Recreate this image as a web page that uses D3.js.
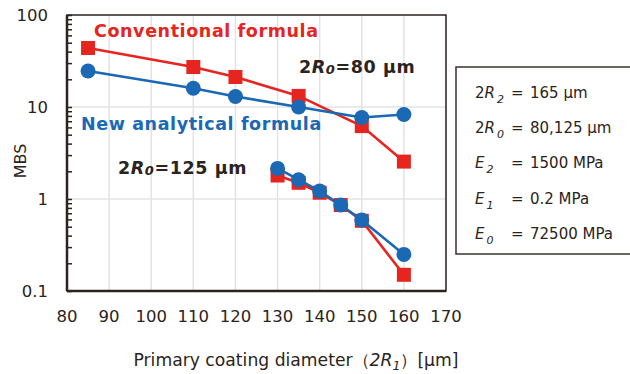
<!DOCTYPE html>
<html><head><meta charset="utf-8">
<script src="https://cdn.jsdelivr.net/npm/d3@7"></script>
<style>body{margin:0;background:#fff}svg{display:block}</style>
</head><body><svg id="c" width="630" height="374"></svg>
<script>
const xTicks = [80,90,100,110,120,130,140,150,160,170];
const yTicks = [0.1,1,10,100];
const x80 = [85,110,120,135,150,160];
const conv80 = [43.8,27.2,21.2,13.2,6.2,2.55];
const new80 = [24.6,16.0,13.0,10.0,7.7,8.3];
const x125 = [130,135,140,145,150,160];
const conv125 = [1.8,1.5,1.17,0.86,0.58,0.15];
const new125 = [2.15,1.62,1.22,0.86,0.59,0.25];
const legendLines = [
  {a:"2", v:"R", s:"2", rest:"165 μm"},
  {a:"2", v:"R", s:"0", rest:"80,125 μm"},
  {a:"", v:"E", s:"2", rest:"1500 MPa"},
  {a:"", v:"E", s:"1", rest:"0.2 MPa"},
  {a:"", v:"E", s:"0", rest:"72500 MPa"}
];
const RED="#e62420", BLUE="#1b68b4", INK="#2b2320";
const svg=d3.select("#c");
const font="DejaVu Sans, Verdana, sans-serif";
const L=67,R=446,T=15,B=291;
const x=d3.scaleLinear().domain([80,170]).range([L,R]);
const y=d3.scaleLog().domain([0.1,100]).range([B,T]);
// grid
svg.append("g").selectAll("line").data(xTicks.slice(1)).join("line")
 .attr("x1",d=>x(d)).attr("x2",d=>x(d)).attr("y1",T).attr("y2",B)
 .attr("stroke","#e3e3e3").attr("stroke-width",1.5);
svg.append("g").selectAll("line").data(yTicks.slice(1,3)).join("line")
 .attr("x1",L).attr("x2",R).attr("y1",d=>y(d)).attr("y2",d=>y(d))
 .attr("stroke","#e3e3e3").attr("stroke-width",1.5);
// axes
const minor=[];
for(let e=-1;e<2;e++)for(let m=1;m<=9;m++)minor.push(m*Math.pow(10,e));
minor.push(100);
const ya=d3.axisLeft(y).tickValues(minor).tickSize(-5).tickFormat("");
const yg=svg.append("g").attr("transform",`translate(${L},0)`).call(ya);
yg.select(".domain").remove();
yg.selectAll(".tick line").attr("stroke",INK).attr("stroke-width",1.5);
svg.append("g").selectAll("text").data(yTicks).join("text")
 .attr("x",L-19).attr("y",d=>y(d)).attr("dy","0.36em").attr("text-anchor","end")
 .attr("font-family",font).attr("font-size",16.5).attr("fill",INK).text(d=>d);
svg.append("g").selectAll("text").data(xTicks).join("text")
 .attr("x",d=>x(d)).attr("y",B+31).attr("text-anchor","middle")
 .attr("font-family",font).attr("font-size",16.5).attr("fill",INK).text(d=>d);
svg.append("rect").attr("x",L).attr("y",T).attr("width",R-L).attr("height",B-T)
 .attr("fill","none").attr("stroke",INK).attr("stroke-width",1.5);
svg.append("line").attr("x1",L).attr("x2",R).attr("y1",B).attr("y2",B).attr("stroke",INK).attr("stroke-width",2.5);
svg.append("line").attr("x1",L).attr("x2",L).attr("y1",T).attr("y2",B).attr("stroke",INK).attr("stroke-width",2.5);
// series
const line=d3.line().x(d=>x(d[0])).y(d=>y(d[1]));
function series(xs,ys,color,shape){
  const pts=xs.map((v,i)=>[v,ys[i]]);
  svg.append("path").attr("d",line(pts)).attr("fill","none").attr("stroke",color).attr("stroke-width",2.6);
  const g=svg.append("g");
  if(shape==="sq") g.selectAll("rect").data(pts).join("rect")
    .attr("x",d=>x(d[0])-7).attr("y",d=>y(d[1])-7).attr("width",14).attr("height",14).attr("fill",color);
  else g.selectAll("circle").data(pts).join("circle")
    .attr("cx",d=>x(d[0])).attr("cy",d=>y(d[1])).attr("r",7.5).attr("fill",color);
}
series(x80,conv80,RED,"sq");
series(x125,conv125,RED,"sq");
series(x80,new80,BLUE,"ci");
series(x125,new125,BLUE,"ci");
// annotations
svg.append("text").attr("x",94).attr("y",37).attr("font-family",font).attr("font-weight","bold")
 .attr("font-size",17.5).attr("fill",RED).attr("letter-spacing",0.6).text("Conventional formula");
svg.append("text").attr("x",81).attr("y",130).attr("font-family",font).attr("font-weight","bold")
 .attr("font-size",17.5).attr("fill",BLUE).attr("letter-spacing",0.6).text("New analytical formula");
function rlab(xp,yp,num){
  const t=svg.append("text").attr("x",xp).attr("y",yp).attr("font-family",font).attr("font-weight","bold")
   .attr("font-size",17.5).attr("fill",INK).attr("letter-spacing",0.6);
  t.append("tspan").text("2");
  t.append("tspan").attr("font-style","italic").text("R");
  t.append("tspan").attr("font-style","italic").attr("font-size",13).attr("dy",1).text("0");
  t.append("tspan").attr("dy",-1).text("="+num+" μm");
}
rlab(299,73,"80");
rlab(118,174,"125");
// axis titles
svg.append("text").attr("transform","translate(20,161) rotate(-90)").attr("text-anchor","middle")
 .attr("dy","0.35em").attr("font-family",font).attr("font-size",16).attr("fill",INK).text("MBS");
const xt=svg.append("text").attr("x",296).attr("y",366).attr("text-anchor","middle")
 .attr("font-family",font).attr("font-size",17.2).attr("fill",INK);
xt.append("tspan").text("Primary coating diameter（");
xt.append("tspan").attr("font-style","italic").text("2R");
xt.append("tspan").attr("font-style","italic").attr("font-size",12.5).attr("dy",4).text("1");
xt.append("tspan").attr("dy",-4).text("）[μm]");
// legend box
svg.append("rect").attr("x",456).attr("y",67).attr("width",180).attr("height",187)
 .attr("fill","#fff").attr("stroke","#3a3330").attr("stroke-width",1.5);
const lg=svg.append("g");
legendLines.forEach((d,i)=>{
  const yy=98+i*35.2;
  const t=lg.append("text").attr("x",475).attr("y",yy).attr("font-family",font)
   .attr("font-size",15).attr("fill",INK);
  if(d.a) t.append("tspan").text(d.a);
  t.append("tspan").attr("font-style","italic").text(d.v);
  t.append("tspan").attr("font-style","italic").attr("font-size",11).attr("dy",5).attr("dx",2).text(d.s);
  lg.append("text").attr("x",511).attr("y",yy).attr("font-family",font)
   .attr("font-size",15).attr("fill",INK).text("=");
  lg.append("text").attr("x",530).attr("y",yy).attr("font-family",font)
   .attr("font-size",15).attr("fill",INK).text(d.rest);
});
</script></body></html>
